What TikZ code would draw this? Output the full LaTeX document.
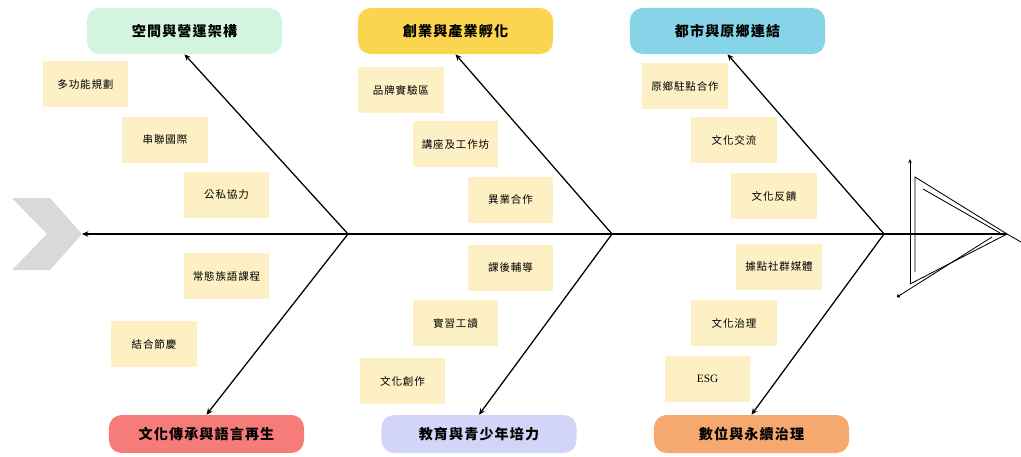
\documentclass[tikz,border=0pt]{standalone}
\usepackage{fontspec}
\setmainfont{Liberation Serif}
\newfontfamily\cjk[LetterSpace=8]{Noto Sans CJK TC}
\usetikzlibrary{arrows.meta}

\definecolor{catgreen}{HTML}{D3F5DF}
\definecolor{catgold}{HTML}{FBD54F}
\definecolor{catblue}{HTML}{87D3E8}
\definecolor{catred}{HTML}{F67C7A}
\definecolor{catlilac}{HTML}{D2D5F8}
\definecolor{catorange}{HTML}{F5A96F}
\definecolor{notefill}{HTML}{FCF0C4}
\definecolor{chevgray}{HTML}{D9D9D9}

\tikzset{
  cat/.style={rounded corners=9pt, minimum width=4.875cm, minimum height=1.15cm,
    inner sep=0pt, font=\cjk\bfseries\fontsize{10}{12}\selectfont},
  catlow/.style={cat, minimum height=0.95cm},
  note/.style={fill=notefill, minimum width=2.125cm, minimum height=1.15cm,
    inner sep=0pt, font=\cjk\fontsize{7.5}{9}\selectfont},
  bone/.style={line width=0.9pt, -{Stealth[length=4.5pt,width=4pt]}},
  tail/.style={line width=0.6pt},
}

\begin{document}
\begin{tikzpicture}[x=0.025cm, y=-0.025cm]
	\useasboundingbox (0,0) rectangle (1021,456);

	% categories
	\node[cat, fill=catgreen]     (cat1) at (184.5,31) {空間與營運架構};
	\node[cat, fill=catgold]      (cat2) at (455.5,31) {創業與產業孵化};
	\node[cat, fill=catblue]      (cat3) at (727.5,31) {都市與原鄉連結};
	\node[catlow, fill=catred]    (cat4) at (206.5,434) {文化傳承與語言再生};
	\node[catlow, fill=catlilac]  (cat5) at (479,434) {教育與青少年培力};
	\node[catlow, fill=catorange] (cat6) at (751.5,434) {數位與永續治理};

	% notes
	\node[note] (n11) at (85.5,84)   {多功能規劃};
	\node[note] (n12) at (165,140)   {串聯國際};
	\node[note] (n13) at (226.5,194.5) {公私協力};
	\node[note] (n21) at (401,90)    {品牌實驗區};
	\node[note] (n22) at (455.5,144) {講座及工作坊};
	\node[note] (n23) at (510.5,199.5) {異業合作};
	\node[note] (n31) at (685,86)    {原鄉駐點合作};
	\node[note] (n32) at (734,140)   {文化交流};
	\node[note] (n33) at (774,196)   {文化反饋};
	\node[note] (n41) at (226.5,276) {常態族語課程};
	\node[note] (n42) at (154,344)   {結合節慶};
	\node[note] (n51) at (510.5,267.5) {課後輔導};
	\node[note] (n52) at (455.5,323) {實習工讀};
	\node[note] (n53) at (402.5,381) {文化創作};
	\node[note] (n61) at (779,266.5) {據點社群媒體};
	\node[note] (n62) at (734,323)   {文化治理};
	\node[note, font=\fontsize{8}{10}\selectfont] (n63) at (707.5,378.5) {ESG};

	% head
	\fill[chevgray] (12,198) -- (50,198) -- (82,234) -- (50,270) -- (12,270) -- (47,234) -- cycle;
	\coordinate (tip) at (82,234);
	\coordinate (head) at (1007,234);
	\coordinate (j1) at (348,234);
	\coordinate (j2) at (612,234);
	\coordinate (j3) at (884,234);

	% spine and bones
	\draw[bone] (head) -- (tip);
	\draw[bone] (j1) -- (cat1.south);
	\draw[bone] (j1) -- (cat4.north);
	\draw[bone] (j2) -- (cat2.south);
	\draw[bone] (j2) -- (cat5.north);
	\draw[bone] (j3) -- (cat3.south);
	\draw[bone] (j3) -- (cat6.north);

	% tail
	\draw[tail, -{Stealth[length=3pt,width=2.5pt]}] (910,284) -- (910,159);
	\draw[tail] (910,284) -- (head) -- (1021,242);
	\draw[tail] (915,272) -- (915,177) -- (head);
	\draw[tail] (923,189) -- (1000,233);
	\draw[tail, -{Circle[length=2.5pt]}] (992,237) -- (897,297);
\end{tikzpicture}
\end{document}
